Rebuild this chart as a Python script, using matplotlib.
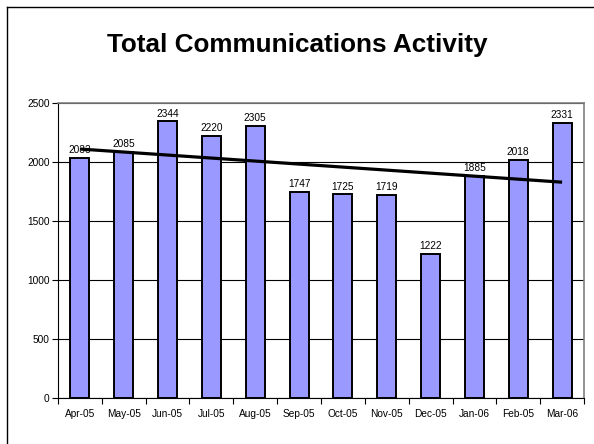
import numpy as np
import matplotlib.pyplot as plt
from matplotlib.lines import Line2D

plt.rcParams['font.family'] = ['Liberation Sans', 'DejaVu Sans']

# Data
months = ['Apr-05', 'May-05', 'Jun-05', 'Jul-05', 'Aug-05', 'Sep-05',
          'Oct-05', 'Nov-05', 'Dec-05', 'Jan-06', 'Feb-05', 'Mar-06']
activity = [2033, 2085, 2344, 2220, 2305, 1747, 1725, 1719, 1222, 1885, 2018, 2331]

fig = plt.figure(figsize=(5.94, 4.44), dpi=100)
ax = fig.add_axes([58 / 594, 1 - 398 / 444, (584 - 58) / 594, (398 - 103) / 444])

x = np.arange(len(months))
ax.bar(x, activity, width=0.43, color='#9999FF', edgecolor='black', linewidth=1.4, zorder=3)

for xi, v in zip(x, activity):
    ax.annotate(str(v), (xi, v), xytext=(0, 2), textcoords='offset points',
                ha='center', va='bottom', fontsize=7.3, zorder=5)

# Linear trendline
slope, intercept = np.polyfit(x, activity, 1)
ax.plot(x, slope * x + intercept, color='black', linewidth=2.3, zorder=4,
        solid_capstyle='butt')

ax.set_xlim(-0.5, len(months) - 0.5)
ax.set_ylim(0, 2500)
ax.set_yticks(range(0, 2501, 500))
ax.yaxis.grid(True, color='black', linewidth=0.8, zorder=0)
ax.set_axisbelow(True)

ax.set_xticks(x)
ax.set_xticklabels(months)
ax.set_xticks(np.arange(-0.5, len(months), 1), minor=True)
ax.tick_params(axis='x', which='major', length=0, pad=8, labelsize=7.3)
ax.tick_params(axis='x', which='minor', length=4, width=0.8)
ax.tick_params(axis='y', length=4, width=0.8, labelsize=7.3, pad=2)

for s in ['left', 'bottom']:
    ax.spines[s].set_color('black')
    ax.spines[s].set_linewidth(0.8)
for s in ['top', 'right']:
    ax.spines[s].set_color('#808080')
    ax.spines[s].set_linewidth(1.2)

fig.text(0.5, 1 - 45 / 444, 'Total Communications Activity', ha='center', va='center',
         fontsize=18.8, fontweight='bold')

# Outer frame (left and top edges visible)
fig.add_artist(Line2D([7 / 594, 7 / 594], [0, 1 - 7 / 444], color='black', linewidth=1.0))
fig.add_artist(Line2D([7 / 594, 1], [1 - 7 / 444, 1 - 7 / 444], color='black', linewidth=1.0))

fig.savefig('out.png', dpi=100, facecolor='white')
plt.close(fig)
